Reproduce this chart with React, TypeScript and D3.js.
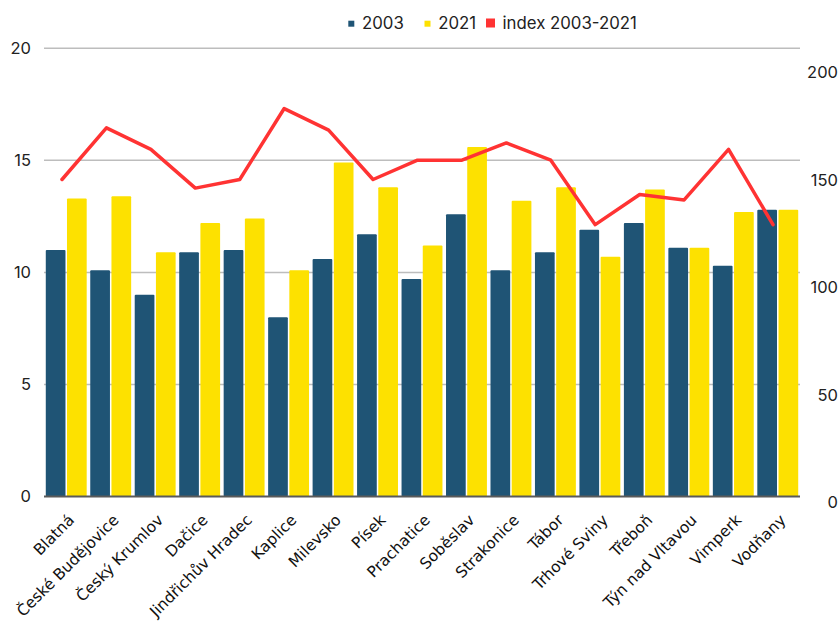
import React from "react";
import * as d3 from "d3";

const categories = ["Blatná","České Budějovice","Český Krumlov","Dačice","Jindřichův Hradec","Kaplice","Milevsko","Písek","Prachatice","Soběslav","Strakonice","Tábor","Trhové Sviny","Třeboň","Týn nad Vltavou","Vimperk","Vodňany"];
const values2003 = [11.0,10.1,9.0,10.9,11.0,8.0,10.6,11.7,9.7,12.6,10.1,10.9,11.9,12.2,11.1,10.3,12.8];
const values2021 = [13.3,13.4,10.9,12.2,12.4,10.1,14.9,13.8,11.2,15.6,13.2,13.8,10.7,13.7,11.1,12.7,12.8];
const indexValues = [150,174,164,146,150,183,173,150,159,159,167,159,129,143,140.5,164,129];
const leftTicks = [0,5,10,15,20];
const rightTicks = [0,50,100,150,200];

const W = 839, H = 623;
const BLUE = "#1F5475";
const YELLOW = "#FDE100";
const RED = "#FF3333";

export default function App() {
  const x = d3.scaleBand<string>().domain(categories).range([44, 800]).paddingInner(0.08).paddingOuter(0.04);
  const xLine = d3.scalePoint<string>().domain(categories).range([62, 773]);
  const yL = d3.scaleLinear().domain([0, 20]).range([496.5, 48.3]);
  const yR = d3.scaleLinear().domain([0, 200]).range([502, 72]);
  const gap = 1.5;
  const bw = (x.bandwidth() - gap) / 2;
  const line = d3.line<number>().x((_, i) => xLine(categories[i])!).y(d => yR(d));

  return (
    <svg width={W} height={H} style={{ position: "absolute", left: 0, top: 0, background: "#fff" }}>
      {leftTicks.filter(t => t > 0).map(t => (
        <line key={t} x1={44} x2={800} y1={yL(t)} y2={yL(t)} stroke="#BDBDBD" strokeWidth={1.5} />
      ))}
      {categories.map((c, i) => (
        <g key={c}>
          <rect x={x(c)!} y={yL(values2003[i])} width={bw} height={yL(0) - yL(values2003[i])} fill={BLUE} rx={1} />
          <rect x={x(c)! + bw + gap} y={yL(values2021[i])} width={bw} height={yL(0) - yL(values2021[i])} fill={YELLOW} rx={1} />
        </g>
      ))}
      <line x1={44} x2={800} y1={yL(0)} y2={yL(0)} stroke="#5A5A5A" strokeWidth={2} />
      <path d={line(indexValues)!} fill="none" stroke={RED} strokeWidth={3.5} strokeLinejoin="round" strokeLinecap="round" />
      {leftTicks.map(t => (
        <text key={t} x={31} y={yL(t) + 5.5} textAnchor="end" fontFamily="Inter, 'Liberation Sans', sans-serif" fontSize={16.5} fill="#222">{t}</text>
      ))}
      {rightTicks.map(t => (
        <text key={t} x={838} y={yR(t) + 6} textAnchor="end" fontFamily="Inter, 'Liberation Sans', sans-serif" fontSize={16.5} fill="#222">{t}</text>
      ))}
      {categories.map(c => {
        const cx = x(c)! + x.bandwidth() / 2 + 9;
        const cy = 521;
        return (
          <text key={c} x={cx} y={cy} transform={`rotate(-45 ${cx} ${cy})`} textAnchor="end"
            fontFamily="'DejaVu Sans', Verdana, sans-serif" fontSize={15.5} fill="#111">{c}</text>
        );
      })}
      <g fontFamily="Inter, 'Liberation Sans', sans-serif" fontSize={16.8} fill="#222">
        <rect x={348.3} y={20.7} width={6} height={6} fill={BLUE} />
        <text x={362} y={28.5}>2003</text>
        <rect x={424.5} y={20.7} width={6} height={6} fill={YELLOW} />
        <text x={438.3} y={28.5}>2021</text>
        <rect x={486} y={18.5} width={9} height={9} fill={RED} />
        <text x={502.5} y={28.5}>index 2003-2021</text>
      </g>
    </svg>
  );
}
